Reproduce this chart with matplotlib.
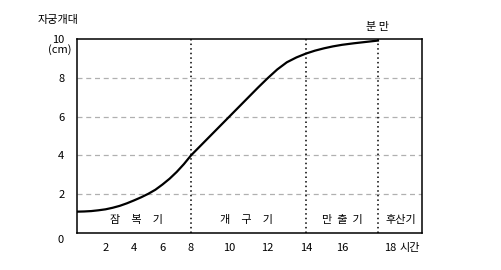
import numpy as np
import matplotlib
matplotlib.use('Agg')
from matplotlib import pyplot as plt

plt.rcParams['font.family'] = ['Noto Sans CJK KR', 'DejaVu Sans']

# cervical dilation (cm) vs hours of labour
hours = [0, 0.5, 1, 1.5, 2, 2.5, 3, 3.5, 4, 4.5, 5, 5.5, 6, 6.5, 7, 7.5, 8,
         9, 10, 11, 11.5, 12, 12.5, 13, 13.5, 14, 14.5, 15, 15.5, 16, 16.5, 17, 17.5]
dilation = [1.10, 1.11, 1.13, 1.17, 1.22, 1.30, 1.40, 1.53, 1.68, 1.84, 2.02, 2.23, 2.50,
            2.80, 3.15, 3.55, 4.0, 5.0, 6.0, 7.0, 7.5, 7.98, 8.43, 8.8, 9.05, 9.25,
            9.4, 9.52, 9.62, 9.7, 9.78, 9.85, 9.92]

phase_bounds = [8, 14, 17.5]
phase_names = ['잠\u3000복\u3000기', '개\u3000구\u3000기', '만  출  기', '후산기']
phase_centers = [4.2, 10.9, 16.0, 18.65]
x_ticks = [2, 4, 6, 8, 10, 12, 14, 16, 18]
y_ticks = [2, 4, 6, 8, 10]

# schematic (non-uniform) time axis
knot_h = [0, 8, 14, 16, 18, 20]
knot_p = [0, 114, 229, 265, 313, 345]


def fwd(x):
    return np.interp(x, knot_h, knot_p)


def inv(p):
    return np.interp(p, knot_p, knot_h)


fig = plt.figure(figsize=(5.02, 2.70), dpi=100)
ax = fig.add_axes([77 / 502, 1 - 233 / 270, 345 / 502, 194 / 270])
ax.set_xscale('function', functions=(fwd, inv))
ax.set_xlim(0, 20)
ax.set_ylim(0, 10)

for y in [2, 4, 6, 8]:
    ax.axhline(y, color='#b0b0b0', lw=0.9, ls=(0, (4, 3)), zorder=1)
for b in phase_bounds:
    ax.axvline(b, color='black', lw=1.1, ls=(0, (1, 2)), zorder=2)

ax.plot(hours, dilation, color='black', lw=1.6, zorder=3)

for s in ax.spines.values():
    s.set_linewidth(1.1)

ax.set_xticks(x_ticks)
ax.set_xticklabels([str(t) for t in x_ticks])
ax.set_yticks(y_ticks)
ax.set_yticklabels([str(t) for t in y_ticks])
ax.tick_params(length=0, labelsize=8, colors='black')
ax.tick_params(axis='x', pad=7)
ax.tick_params(axis='y', pad=9)

for name, c in zip(phase_names, phase_centers):
    ax.text(c, 0.65, name, ha='center', va='center', fontsize=8)

ax.annotate('시간', xy=(18, 0), xycoords=('data', 'axes fraction'),
            xytext=(6.5, -10.5), textcoords='offset points', ha='left', va='center', fontsize=8)
ax.text(17.5, 10.6, '분 만', ha='center', va='center', fontsize=8)
ax.text(-0.038, -0.035, '0', transform=ax.transAxes, ha='right', va='center', fontsize=8)
ax.text(-0.015, 0.945, '(cm)', transform=ax.transAxes, ha='right', va='center', fontsize=8)
ax.text(-0.055, 1.1, '자궁개대', transform=ax.transAxes, ha='center', va='center', fontsize=8)

fig.savefig('out.png', dpi=100)
